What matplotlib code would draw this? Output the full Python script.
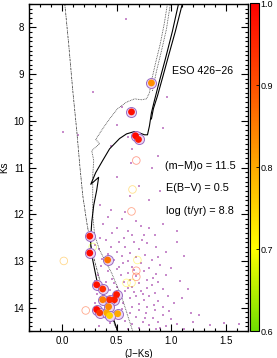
import numpy as np
import matplotlib.pyplot as plt
from matplotlib.colors import LinearSegmentedColormap, Normalize
from matplotlib.ticker import MultipleLocator

plt.rcParams['font.family'] = ['Liberation Sans', 'DejaVu Sans']

#? Isochrones (J-Ks, Ks)
iso_solid_jk = [0.51, 0.464, 0.391, 0.318, 0.282, 0.264, 0.264, 0.273, 0.291, 0.318, 0.336,
                0.264, 0.309, 0.373, 0.436, 0.527, 0.591, 0.664, 0.709, 0.755, 0.782,
                0.80, 0.818, 0.845, 0.891, 0.945, 1.009, 1.065]
iso_solid_ks = [14.51, 14.19, 13.83, 13.40, 12.98, 12.66, 12.49, 12.17, 11.81, 11.49, 11.21,
                11.36, 11.11, 10.85, 10.60, 10.38, 10.28, 10.23, 10.26, 10.30, 10.30,
                10.11, 9.83, 9.57, 9.15, 8.68, 8.09, 7.50]
iso_loop_jk = [0.818, 0.836, 0.873, 0.918, 0.973, 1.036, 1.10]
iso_loop_ks = [9.96, 9.74, 9.47, 9.09, 8.62, 8.09, 7.50]

iso_dot_jk = [0.645, 0.555, 0.455, 0.345, 0.30, 0.282, 0.282, 0.282, 0.291, 0.273, 0.345,
              0.309, 0.373, 0.436, 0.509, 0.591, 0.664, 0.727, 0.773, 0.80, 0.818,
              0.855, 0.90, 0.936, 0.964]
iso_dot_ks = [14.49, 13.83, 13.26, 12.77, 12.45, 12.02, 11.60, 11.17, 10.85, 10.64, 10.49,
              10.40, 10.17, 9.96, 9.74, 9.60, 9.53, 9.55, 9.53, 9.40, 9.15,
              8.77, 8.34, 7.91, 7.50]
iso_dot2_jk = [0.827, 0.864, 0.909, 0.955, 0.991]
iso_dot2_ks = [9.36, 8.94, 8.51, 8.04, 7.50]

iso_dd_jk = [0.027, 0.064, 0.10, 0.136, 0.164, 0.191, 0.227, 0.273, 0.345, 0.418, 0.482, 0.509]
iso_dd_ks = [7.50, 8.40, 9.36, 10.21, 10.96, 11.60, 12.17, 12.77, 13.40, 13.94, 14.36, 14.51]

#? Members (filled) with membership probability
mem_jk = [0.818, 0.636, 0.673, 0.70, 0.255, 0.255, 0.418, 0.318, 0.373, 0.50, 0.48,
          0.373, 0.436, 0.318, 0.345, 0.41, 0.427, 0.51, 0.436]
mem_ks = [9.19, 9.81, 10.32, 10.40, 12.47, 12.83, 12.98, 13.51, 13.60, 13.72, 13.83,
          13.83, 13.83, 14.04, 14.11, 14.11, 13.98, 14.13, 14.17]
mem_p = [0.83, 0.98, 0.99, 0.97, 0.98, 0.99, 0.86, 0.98, 0.94, 0.97, 0.96,
         0.85, 0.95, 0.99, 0.93, 0.80, 0.84, 0.80, 0.75]

#? Candidates (open circles)
cand_jk = [0.68, 0.645, 0.636, 0.282, 0.018, 0.69, 0.68, 0.68, 0.59, 0.636, 0.218, 0.455]
cand_ks = [10.85, 11.47, 11.94, 12.70, 13.00, 12.98, 13.21, 13.34, 13.47, 13.47, 14.06, 14.20]
cand_p = [0.95, 0.78, 0.92, 0.68, 0.80, 0.72, 0.93, 0.93, 0.72, 0.74, 0.92, 0.73]

#? Field stars
field_jk = [0.59, 0.28, 0.01, 0.15, 0.50, 0.60, 0.64, 0.63, 0.96, 0.92, 0.88, 0.55, 0.78, 0.45, 0.82,
            0.50, 0.70, 0.62, 0.80, 0.45, 0.90, 0.58, 0.35,
            0.42, 0.55, 0.68, 0.38, 0.72, 0.50, 0.60, 0.80, 0.46, 0.85, 0.64, 0.35, 0.57, 0.92, 0.75,
            0.40, 0.52, 0.66, 0.78, 0.45, 0.58, 0.86, 0.34, 0.70, 0.50, 0.62, 0.95, 0.42, 0.76, 0.55,
            0.68, 0.88, 0.37, 0.48, 0.82, 0.60, 1.05, 1.12, 0.73, 0.30,
            0.44, 0.56, 0.72, 0.90, 0.36, 0.64, 0.80, 0.50, 0.42, 0.60, 0.75, 0.86, 0.33, 0.54, 0.68,
            0.95, 0.46, 0.62, 0.78, 0.40, 0.57, 0.70, 0.88, 1.00, 0.30, 1.08, 0.52, 0.83, 0.66, 0.48,
            0.36, 0.50, 0.64, 0.78, 0.92, 0.44, 0.58, 0.72, 0.85, 0.32, 0.54, 0.68, 0.80, 0.97, 0.46,
            0.62, 0.75, 0.88, 0.39, 0.56, 0.70, 0.84, 1.02, 0.48, 0.64, 0.78, 0.92, 0.35, 0.60, 0.74,
            1.10, 0.52, 0.66, 0.82, 0.30,
            0.40, 0.55, 0.70, 0.85, 0.98, 0.46, 0.62, 0.77, 0.92, 0.36, 0.52, 0.68, 0.83, 1.00, 0.58,
            0.74, 0.88, 0.44, 0.64, 0.80, 0.95, 0.50, 0.70, 0.86, 1.05, 1.20, 1.35, 1.48, 1.62, 1.18,
            0.60, 0.76, 0.90, 0.34, 1.12, 1.05, 1.15, 1.25]
field_ks = [7.83, 9.38, 10.25, 10.30, 10.10, 10.35, 10.60, 10.90, 9.50, 10.15, 10.75, 9.70, 9.20, 10.55, 11.00,
            11.20, 11.40, 11.60, 11.70, 11.90, 11.50, 11.95, 11.80,
            12.05, 12.10, 12.15, 12.20, 12.25, 12.30, 12.35, 12.30, 12.40, 12.45, 12.45, 12.50, 12.50, 12.20, 12.45,
            12.55, 12.60, 12.60, 12.62, 12.70, 12.70, 12.70, 12.75, 12.75, 12.80, 12.82, 12.80, 12.85, 12.88, 12.90,
            12.92, 12.92, 12.95, 12.98, 12.98, 13.00, 12.60, 12.90, 12.55, 12.65,
            13.03, 13.05, 13.05, 13.08, 13.10, 13.12, 13.15, 13.18, 13.22, 13.25, 13.22, 13.28, 13.30, 13.30, 13.32,
            13.30, 13.38, 13.40, 13.40, 13.45, 13.46, 13.48, 13.45, 13.15, 13.42, 13.42, 13.12, 13.36, 13.20, 13.48,
            13.52, 13.55, 13.55, 13.58, 13.60, 13.62, 13.65, 13.65, 13.68, 13.70, 13.72, 13.74, 13.76, 13.75, 13.80,
            13.80, 13.84, 13.85, 13.88, 13.90, 13.92, 13.94, 13.90, 13.96, 13.98, 13.98, 13.98, 13.60, 13.58, 13.70,
            13.80, 13.86, 13.66, 13.52, 13.90,
            14.02, 14.03, 14.05, 14.05, 14.08, 14.10, 14.12, 14.12, 14.15, 14.18, 14.20, 14.20, 14.22, 14.25, 14.28,
            14.30, 14.30, 14.33, 14.36, 14.38, 14.40, 14.42, 14.44, 14.46, 14.35, 14.30, 14.38, 14.32, 14.35, 14.12,
            14.46, 14.22, 14.44, 14.40, 14.45, 12.35, 13.60, 14.15]

xticks = [0.0, 0.5, 1.0, 1.5]
yticks = [8, 9, 10, 11, 12, 13, 14]
cb_ticks = [0.6, 0.7, 0.8, 0.9, 1.0]

cmap = LinearSegmentedColormap.from_list(
    'prob', [(0.0, '#70dd00'), (0.25, '#ffff00'), (0.5, '#ffaa00'), (0.75, '#ff5000'), (1.0, '#ff0000')])
norm = Normalize(vmin=0.6, vmax=1.0)

fig = plt.figure(figsize=(2.77, 3.58), dpi=100)
ax = fig.add_axes([0.1047, 0.0754, 0.7906, 0.9134])
cax = fig.add_axes([0.9025, 0.0754, 0.0325, 0.9162])

ax.scatter(field_jk, field_ks, s=0.7, marker='s', color='#c88ccc', linewidths=0, zorder=1)

ax.plot(iso_dd_jk, iso_dd_ks, color='#333333', lw=0.55, ls=(0, (3, 1, 1, 1)), zorder=2)
ax.plot(iso_dot_jk, iso_dot_ks, color='#444444', lw=0.6, ls=(0, (1, 1)), zorder=2)
ax.plot(iso_dot2_jk, iso_dot2_ks, color='#444444', lw=0.6, ls=(0, (1, 1)), zorder=2)
ax.plot(iso_solid_jk, iso_solid_ks, color='black', lw=0.8, zorder=3)
ax.plot(iso_loop_jk, iso_loop_ks, color='black', lw=0.8, zorder=3)

ax.scatter(cand_jk, cand_ks, s=30, facecolors='none', edgecolors=cmap(norm(cand_p)),
           linewidths=0.6, alpha=0.45, zorder=4)

ax.scatter(mem_jk, mem_ks, s=52, facecolor='#ecd6f2', edgecolor='#9a6cc4', linewidths=0.7, zorder=5)
ax.scatter(mem_jk, mem_ks, s=24, c=mem_p, cmap=cmap, norm=norm, linewidths=0, zorder=6)

ax.text(1.01, 8.94, 'ESO 426−26', fontsize=7.7, ha='left', va='center')
ax.text(0.945, 10.96, '(m−M)o = 11.5', fontsize=7.8, ha='left', va='center')
ax.text(0.955, 11.43, 'E(B−V) = 0.5', fontsize=7.8, ha='left', va='center')
ax.text(0.955, 11.94, 'log (t/yr) = 8.8', fontsize=7.8, ha='left', va='center')

ax.set_xlim(-0.3, 1.7)
ax.set_ylim(14.5, 7.5)
ax.set_xticks(xticks)
ax.set_yticks(yticks)
ax.xaxis.set_minor_locator(MultipleLocator(0.1))
ax.yaxis.set_minor_locator(MultipleLocator(0.1))
ax.tick_params(which='both', direction='in', top=True, right=True, labelsize=7, width=0.8)
ax.tick_params(which='major', length=5)
ax.tick_params(which='minor', length=2.5)
ax.set_xlabel('(J−Ks)', fontsize=7, labelpad=2)
ax.set_ylabel('Ks', fontsize=7, labelpad=3)
for sp in ax.spines.values():
    sp.set_linewidth(1.0)

sm = plt.cm.ScalarMappable(cmap=cmap, norm=norm)
cb = fig.colorbar(sm, cax=cax, ticks=cb_ticks, format='%.1f')
cb.ax.tick_params(labelsize=6.5, direction='in', length=2, width=0.6, pad=1)
cb.outline.set_linewidth(0.8)

fig.savefig('out.png', dpi=100)
